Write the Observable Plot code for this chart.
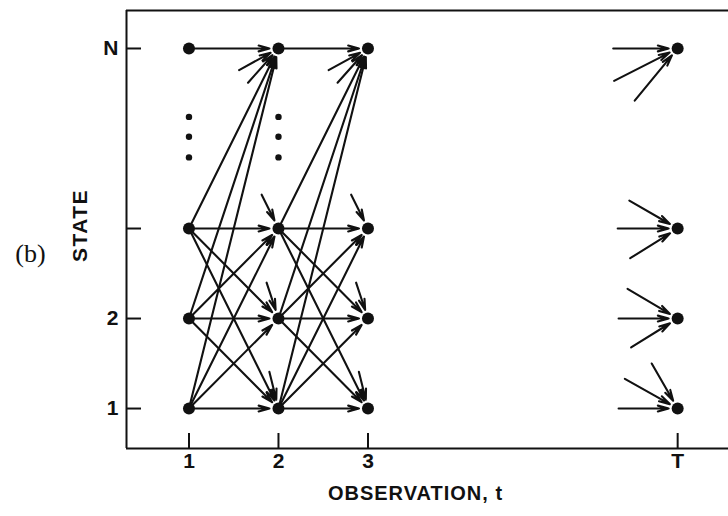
<!DOCTYPE html>
<html><head><meta charset="utf-8">
<script src="https://cdn.jsdelivr.net/npm/d3@7"></script>
<script src="https://cdn.jsdelivr.net/npm/@observablehq/plot@0.6"></script>
<style>body{margin:0;background:#fff}</style>
</head><body><div id="chart"></div>
<script>
// Observation axis (t) and state axis
const timeLabels = ["1", "2", "3", "T"];
const timePos = [1, 2, 3, 6.46];
const stateLabels = ["1", "2", "", "N"];
const statePos = [1, 2, 3, 5];
// trellis steps drawn in full: t -> t+1
const trellisSteps = [1, 2];
const fullSources = [1, 2, 3];
const fullTargets = [1, 2, 3, 5];
const stateN = 5;
const partialTargetsFromN = [1, 2, 3];
// elision dots between state 3 and N
const dotTimes = [1, 2];
const dotStates = [3.79, 4.02, 4.24];
// short incoming strokes into N at t = 2, 3 (start offset, in axis units)
const fanIntoN = [{dt: -0.44, ds: -0.24}, {dt: -0.34, ds: -0.38}];
// incoming strokes at the last observation T (start offset, in axis units)
const lastStubs = [
  {state: 5, dt: -0.72, ds: 0}, {state: 5, dt: -0.71, ds: -0.36}, {state: 5, dt: -0.48, ds: -0.58},
  {state: 3, dt: -0.67, ds: 0}, {state: 3, dt: -0.54, ds: 0.31}, {state: 3, dt: -0.53, ds: -0.33},
  {state: 2, dt: -0.66, ds: 0}, {state: 2, dt: -0.56, ds: 0.33}, {state: 2, dt: -0.52, ds: -0.32},
  {state: 1, dt: -0.66, ds: 0}, {state: 1, dt: -0.59, ds: 0.33}, {state: 1, dt: -0.29, ds: 0.5}
];
const stubLength = 0.42;

// build edges
const edges = [];
for (const t of trellisSteps) {
  for (const i of fullSources) for (const j of fullTargets) edges.push({x1: t, y1: i, x2: t + 1, y2: j});
  edges.push({x1: t, y1: stateN, x2: t + 1, y2: stateN});
  for (const j of partialTargetsFromN) {
    const vx = 1, vy = j - stateN, n = Math.hypot(vx, vy);
    edges.push({x1: t + 1 - stubLength * vx / n, y1: j - stubLength * vy / n, x2: t + 1, y2: j});
  }
  for (const f of fanIntoN) edges.push({x1: t + 1 + f.dt, y1: stateN + f.ds, x2: t + 1, y2: stateN});
}
const T = timePos[3];
for (const s of lastStubs) edges.push({x1: T + s.dt, y1: s.state + s.ds, x2: T, y2: s.state});

const nodes = [];
for (const t of timePos) for (const s of statePos) nodes.push({t, s});
const dots = [];
for (const t of dotTimes) for (const s of dotStates) dots.push({t, s});

const xDomain = [0.302, 7.028];
const yDomain = [0.556, 5.422];
const W = 728, H = 516, mL = 126, mR = 0, mT = 10, mB = 68;
const ink = "#111";
const sans = "'Liberation Sans', Arial, sans-serif";

const svg = Plot.plot({
  width: W, height: H,
  marginLeft: mL, marginRight: mR, marginTop: mT, marginBottom: mB,
  x: {domain: xDomain, axis: null},
  y: {domain: yDomain, axis: null},
  style: {background: "#fff", color: ink},
  marks: [
    Plot.ruleX([xDomain[0]], {stroke: ink, strokeWidth: 2}),
    Plot.ruleY([yDomain[0], yDomain[1]], {stroke: ink, strokeWidth: 2}),
    Plot.tickY(statePos, {y: d => d, stroke: ink, strokeWidth: 2, insetRight: (W - mL - mR) - 15}),
    Plot.tickX(timePos, {x: d => d, stroke: ink, strokeWidth: 2, insetTop: (H - mT - mB) - 15}),
    Plot.text(statePos, {y: d => d, text: (d, i) => stateLabels[i], frameAnchor: "left", textAnchor: "end", dx: -8, fontSize: 21, fontWeight: "bold", fontFamily: sans, fill: ink}),
    Plot.text(timePos, {x: d => d, text: (d, i) => timeLabels[i], frameAnchor: "bottom", dy: 19, fontSize: 21, fontWeight: "bold", fontFamily: sans, fill: ink}),
    Plot.text(["OBSERVATION, t"], {text: d => d, frameAnchor: "bottom", textAnchor: "middle", dx: -12, dy: 51, fontSize: 20, fontWeight: "bold", fontFamily: sans, fill: ink}),
    Plot.text(["STATE"], {text: d => d, frameAnchor: "left", textAnchor: "middle", rotate: -90, dx: -46, dy: -4, fontSize: 21, fontWeight: "bold", fontFamily: sans, fill: ink}),
    Plot.text(["(b)"], {text: d => d, frameAnchor: "left", textAnchor: "middle", dx: -96, dy: 24, fontSize: 26, fontFamily: "'Liberation Serif', 'Times New Roman', serif", fill: ink}),
    Plot.arrow(edges, {x1: "x1", y1: "y1", x2: "x2", y2: "y2", stroke: ink, strokeWidth: 2.1, headLength: 8, headAngle: 30, insetEnd: 9}),
    Plot.dot(nodes, {x: "t", y: "s", r: 6, fill: ink}),
    Plot.dot(dots, {x: "t", y: "s", r: 3.2, fill: ink})
  ]
});
d3.select(svg).selectAll("text").each(function () {
  const t = this.textContent;
  if (t === "OBSERVATION, t") d3.select(this).attr("letter-spacing", "1px");
  if (t === "STATE") d3.select(this).attr("letter-spacing", "1.5px");
});
document.getElementById("chart").appendChild(svg);
</script>
</body></html>
